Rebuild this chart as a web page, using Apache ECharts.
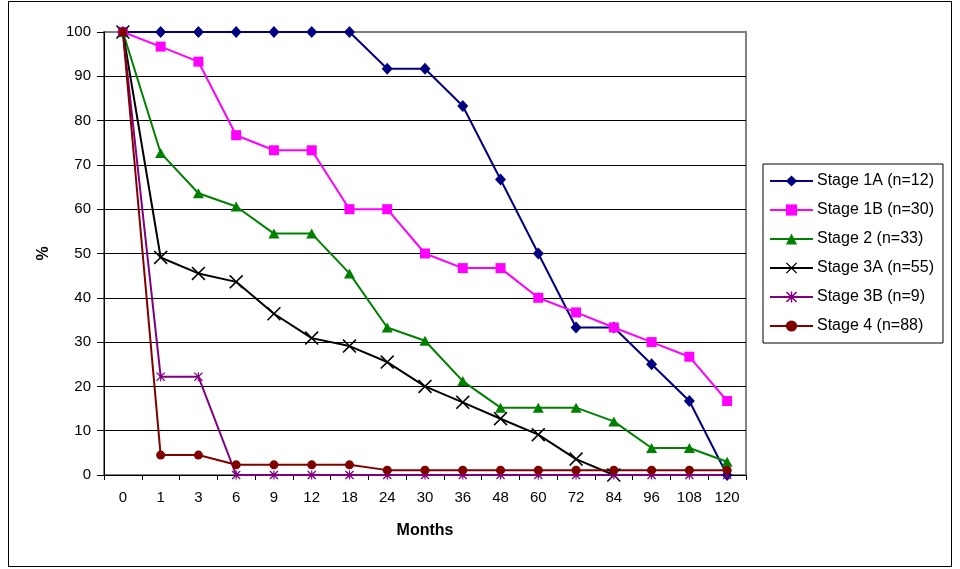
<!DOCTYPE html>
<html>
<head>
<meta charset="utf-8">
<script src="https://cdn.jsdelivr.net/npm/echarts@6/dist/echarts.min.js"></script>
<style>
html,body{margin:0;padding:0;background:#fff;}
#chart{width:960px;height:569px;}
</style>
</head>
<body>
<div id="chart"></div>
<script>
const months = ['0','1','3','6','9','12','18','24','30','36','48','60','72','84','96','108','120'];
const stage1A = [100,100,100,100,100,100,100,91.7,91.7,83.3,66.7,50,33.3,33.3,25,16.7,0];
const stage1B = [100,96.7,93.3,76.7,73.3,73.3,60,60,50,46.7,46.7,40,36.7,33.3,30,26.7,16.7];
const stage2  = [100,72.7,63.6,60.6,54.5,54.5,45.5,33.3,30.3,21.2,15.2,15.2,15.2,12.1,6.1,6.1,3.0];
const stage3A = [100,49.1,45.5,43.6,36.4,30.9,29.1,25.5,20,16.4,12.7,9.1,3.6,0,null,null,null];
const stage3B = [100,22.2,22.2,0,0,0,0,0,0,0,0,0,0,0,0,0,0];
const stage4  = [100,4.5,4.5,2.3,2.3,2.3,2.3,1.1,1.1,1.1,1.1,1.1,1.1,1.1,1.1,1.1,1.1];
const seriesNames = ['Stage 1A (n=12)','Stage 1B (n=30)','Stage 2 (n=33)','Stage 3A (n=55)','Stage 3B (n=9)','Stage 4 (n=88)'];

const X_PATH = 'path://M0,0.8L0.8,0L5,4.2L9.2,0L10,0.8L5.8,5L10,9.2L9.2,10L5,5.8L0.8,10L0,9.2L4.2,5Z';
const STAR_PATH = 'path://M0,1L1,0L5,4L9,0L10,1L6,5L10,9L9,10L5,6L1,10L0,9L4,5Z M4.35,0L5.65,0L5.65,10L4.35,10Z';

const FONT = 'Arial, "Liberation Sans", sans-serif';
const chart = echarts.init(document.getElementById('chart'), null, {renderer:'canvas'});

function mk(name, data, color, symbol, size) {
  return {
    name: name, type: 'line', data: data, symbol: symbol, symbolSize: size,
    showAllSymbol: true, clip: false, connectNulls: false,
    lineStyle: {color: color, width: 2},
    itemStyle: {color: color},
    emphasis: {disabled: true},
    animation: false
  };
}

const gridColors = [];
for (let i = 0; i < 10; i++) gridColors.push('#000000');
gridColors.push('#808080');

chart.setOption({
  backgroundColor: '#ffffff',
  animation: false,
  textStyle: {fontFamily: FONT, color: '#000'},
  graphic: [{
    type: 'rect', silent: true,
    shape: {x: 8.5, y: 1.5, width: 943, height: 565},
    style: {fill: 'none', stroke: '#000', lineWidth: 1}
  }],
  grid: {left: 104, right: 214, top: 32, bottom: 94, show: true, borderColor: '#808080', borderWidth: 2, backgroundColor: 'transparent'},
  legend: {
    orient: 'vertical', left: 763, top: 164,
    padding: [9, 9, 9, 6],
    itemWidth: 43, itemHeight: 14, itemGap: 13,
    borderColor: '#000', borderWidth: 1, backgroundColor: '#fff',
    textStyle: {fontFamily: FONT, fontSize: 16, color: '#000', padding: [0,0,0,-1]},
    data: seriesNames
  },
  xAxis: {
    type: 'category', data: months, boundaryGap: true,
    name: 'Months', nameLocation: 'middle', nameGap: 48,
    nameTextStyle: {fontFamily: FONT, fontSize: 16, fontWeight: 'bold', color: '#000'},
    axisLine: {lineStyle: {color: '#000', width: 1}},
    axisTick: {show: true, interval: 0, length: 5, lineStyle: {color: '#000'}},
    axisLabel: {interval: 0, margin: 15, fontFamily: FONT, fontSize: 15, color: '#000'},
    splitLine: {show: false}
  },
  yAxis: {
    type: 'value', min: 0, max: 100, interval: 10,
    name: '%', nameLocation: 'middle', nameGap: 52, nameRotate: 90,
    nameTextStyle: {fontFamily: FONT, fontSize: 16, fontWeight: 'bold', color: '#000'},
    axisLine: {show: true, lineStyle: {color: '#000', width: 1}},
    axisTick: {show: true, length: 7, lineStyle: {color: '#000'}},
    axisLabel: {margin: 13, fontFamily: FONT, fontSize: 15, color: '#000'},
    splitLine: {show: true, lineStyle: {color: gridColors, width: 1}}
  },
  series: [
    mk(seriesNames[0], stage1A, '#000080', 'diamond', [11, 12]),
    mk(seriesNames[1], stage1B, '#FF00FF', 'rect', 10),
    mk(seriesNames[2], stage2, '#008000', 'triangle', [11, 10]),
    mk(seriesNames[3], stage3A, '#000000', X_PATH, 14),
    mk(seriesNames[4], stage3B, '#800080', STAR_PATH, 9),
    mk(seriesNames[5], stage4, '#800000', 'circle', 9)
  ]
});
</script>
</body>
</html>
